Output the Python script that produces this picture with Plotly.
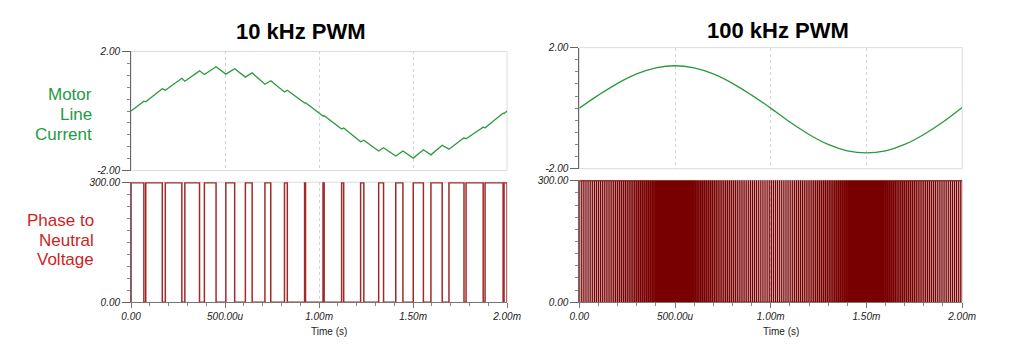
import plotly.graph_objects as go

# ---------------- data (time in microseconds) ----------------
# 10 kHz PWM: high intervals of the phase-to-neutral voltage
pwm10_high_start_us = [0, 78, 182, 286, 390, 504, 608, 712, 816, 923, 1021,
                       1120, 1221, 1317, 1408, 1501, 1595, 1691, 1782, 1883, 1984]
pwm10_high_end_us = [68, 166, 270, 364, 452, 551, 644, 743, 831, 928, 1027,
                     1131, 1238, 1343, 1446, 1555, 1655, 1771, 1873, 1979, 2000]
pwm_high_v = 300
pwm_low_v = 0

# 10 kHz motor line current (ripple vertices)
current10_t_us = [0, 68, 78, 166, 182, 270, 286, 364, 390, 452, 504, 551, 608,
                  644, 712, 743, 816, 831, 923, 928, 1021, 1027, 1120, 1131,
                  1221, 1238, 1317, 1343, 1408, 1446, 1501, 1555, 1595, 1655,
                  1691, 1771, 1782, 1873, 1883, 1979, 1984, 2000]
current10_a = [0.00, 0.33, 0.31, 0.75, 0.70, 1.10, 1.00, 1.35, 1.23, 1.49, 1.24,
               1.42, 1.14, 1.28, 0.90, 1.02, 0.64, 0.70, 0.27, 0.28, -0.17,
               -0.16, -0.60, -0.57, -1.03, -0.98, -1.34, -1.23, -1.51, -1.34,
               -1.58, -1.30, -1.47, -1.15, -1.28, -0.90, -0.93, -0.54, -0.56,
               -0.07, -0.08, 0.00]

# 100 kHz PWM: duty cycle of each 10 us period (estimated)
pwm100_period_us = 10
pwm100_duty = [
    0.96, 0.96, 0.96, 0.96, 0.96, 0.95, 0.95, 0.95, 0.94, 0.94,
    0.94, 0.93, 0.92, 0.92, 0.91, 0.91, 0.90, 0.89, 0.88, 0.88,
    0.87, 0.86, 0.85, 0.84, 0.83, 0.82, 0.81, 0.80, 0.79, 0.78,
    0.76, 0.75, 0.74, 0.73, 0.72, 0.70, 0.69, 0.68, 0.66, 0.65,
    0.64, 0.62, 0.61, 0.59, 0.58, 0.56, 0.55, 0.54, 0.52, 0.51,
    0.49, 0.48, 0.46, 0.45, 0.44, 0.42, 0.41, 0.39, 0.38, 0.36,
    0.35, 0.34, 0.32, 0.31, 0.30, 0.28, 0.27, 0.26, 0.25, 0.24,
    0.22, 0.21, 0.20, 0.19, 0.18, 0.17, 0.16, 0.15, 0.14, 0.13,
    0.12, 0.12, 0.11, 0.10, 0.09, 0.09, 0.08, 0.07, 0.06, 0.06,
    0.06, 0.05, 0.05, 0.05, 0.04, 0.04, 0.04, 0.04, 0.04, 0.04,
    0.04, 0.04, 0.04, 0.04, 0.04, 0.05, 0.05, 0.05, 0.06, 0.06,
    0.06, 0.07, 0.08, 0.08, 0.09, 0.09, 0.10, 0.11, 0.12, 0.12,
    0.13, 0.14, 0.15, 0.16, 0.17, 0.18, 0.19, 0.20, 0.21, 0.22,
    0.24, 0.25, 0.26, 0.27, 0.28, 0.30, 0.31, 0.32, 0.34, 0.35,
    0.36, 0.38, 0.39, 0.41, 0.42, 0.44, 0.45, 0.46, 0.48, 0.49,
    0.51, 0.52, 0.54, 0.55, 0.56, 0.58, 0.59, 0.61, 0.62, 0.64,
    0.65, 0.66, 0.68, 0.69, 0.70, 0.72, 0.73, 0.74, 0.75, 0.76,
    0.78, 0.79, 0.80, 0.81, 0.82, 0.83, 0.84, 0.85, 0.86, 0.87,
    0.88, 0.88, 0.89, 0.90, 0.91, 0.91, 0.92, 0.92, 0.93, 0.94,
    0.94, 0.94, 0.95, 0.95, 0.95, 0.96, 0.96, 0.96, 0.96, 0.96,
]

# 100 kHz motor line current (smooth), sampled every 100 us
current100_t_us = [0, 100, 200, 300, 400, 500, 600, 700, 800, 900, 1000,
                   1100, 1200, 1300, 1400, 1500, 1600, 1700, 1800, 1900, 2000]
current100_a = [0.00, 0.43, 0.82, 1.13, 1.33, 1.40, 1.33, 1.13, 0.82, 0.43, 0.00,
                -0.46, -0.87, -1.20, -1.41, -1.48, -1.41, -1.20, -0.87, -0.46, 0.02]

x_tick_vals = [0, 500, 1000, 1500, 2000]
x_tick_text = ["0.00", "500.00u", "1.00m", "1.50m", "2.00m"]
titles = ["10 kHz PWM", "100 kHz PWM"]
current_label = ["Motor", "Line", "Current"]
voltage_label = ["Phase to", "Neutral", "Voltage"]

# ---------------- build step waveforms ----------------
def step_wave(starts, ends):
    xs, ys = [], []
    for a, b in zip(starts, ends):
        xs += [a, a, b, b]
        ys += [pwm_low_v, pwm_high_v, pwm_high_v, pwm_low_v]
    return xs, ys

v10_x, v10_y = step_wave(pwm10_high_start_us, pwm10_high_end_us)

p100_starts, p100_ends = [], []
for k, d in enumerate(pwm100_duty):
    c = k * pwm100_period_us + pwm100_period_us / 2
    p100_starts.append(c - d * pwm100_period_us / 2)
    p100_ends.append(c + d * pwm100_period_us / 2)
v100_x, v100_y = step_wave(p100_starts, p100_ends)

W, H = 1023, 349
def px(x):
    return x / W
def py(y):
    return 1 - y / H

GREEN = "#2a9a3c"
GREEN_TXT = "#1f9a47"
RED_TXT = "#cc1f24"
FONT = "Liberation Sans, Arial, sans-serif"

fig = go.Figure()
fig.add_trace(go.Scatter(x=current10_t_us, y=current10_a, mode="lines",
                         line=dict(color=GREEN, width=1.3), xaxis="x", yaxis="y"))
fig.add_trace(go.Scatter(x=v10_x, y=v10_y, mode="lines", line=dict(color="#a02a2a", width=1.5, simplify=False),
                         xaxis="x2", yaxis="y2"))
fig.add_trace(go.Scatter(x=current100_t_us, y=current100_a, mode="lines",
                         line=dict(color=GREEN, width=1.3, shape="spline"), xaxis="x3", yaxis="y3"))
fig.add_trace(go.Scatter(x=v100_x, y=v100_y, mode="lines", line=dict(color="#780000", width=1.2, simplify=False),
                         xaxis="x4", yaxis="y4"))

tickfont = dict(family=FONT, size=10, color="#222", style="italic")

def xaxis_cfg(domain, labels, anchor):
    cfg = dict(domain=domain, range=[0, 2000], anchor=anchor, zeroline=False,
               showgrid=True, gridcolor="#d4d4d4", griddash="dot", gridwidth=1,
               tickmode="array", tickvals=x_tick_vals, fixedrange=True)
    if labels:
        cfg.update(ticktext=x_tick_text, ticks="outside", ticklen=5, tickcolor="#777",
                   showline=True, linecolor="#777", linewidth=1, tickfont=tickfont,
                   minor=dict(tickmode="linear", tick0=0, dtick=100, ticks="outside",
                              ticklen=3, tickcolor="#888", showgrid=False))
    else:
        cfg.update(showticklabels=False, ticks="", showline=False)
    return cfg

def yaxis_cfg(domain, rng, vals, texts, dminor, anchor):
    return dict(domain=domain, range=rng, anchor=anchor, zeroline=False, showgrid=False,
                tickmode="array", tickvals=vals, ticktext=texts, ticks="outside", ticklen=8,
                tickcolor="#666", showline=True, linecolor="#666", linewidth=1,
                tickfont=tickfont, fixedrange=True,
                minor=dict(tickmode="linear", tick0=rng[0], dtick=dminor, ticks="outside",
                           ticklen=3, tickcolor="#888", showgrid=False))

L = [px(124), px(509)]
R = [px(583), px(975)]
LT = [py(171), py(48)]
LB = [py(307), py(183)]
RT = [py(169), py(44)]
RB = [py(307), py(181)]

fig.update_layout(
    width=W, height=H, margin=dict(l=0, r=0, t=0, b=0),
    paper_bgcolor="white", plot_bgcolor="white", showlegend=False,
    xaxis=xaxis_cfg(L, False, "y"),
    yaxis=yaxis_cfg(LT, [-2, 2], [-2, 2], ["-2.00", "2.00"], 0.4, "x"),
    xaxis2=xaxis_cfg(L, True, "y2"),
    yaxis2=yaxis_cfg(LB, [0, 301], [0, 300], ["0.00", "300.00"], 30, "x2"),
    xaxis3=xaxis_cfg(R, False, "y3"),
    yaxis3=yaxis_cfg(RT, [-2, 2], [-2, 2], ["-2.00", "2.00"], 0.4, "x3"),
    xaxis4=xaxis_cfg(R, True, "y4"),
    yaxis4=yaxis_cfg(RB, [0, 301], [0, 300], ["0.00", "300.00"], 30, "x4"),
)

# light frames
for xa, ya in [("x", "y"), ("x2", "y2"), ("x3", "y3"), ("x4", "y4")]:
    fig.add_shape(type="rect", xref=f"{xa} domain", yref=f"{ya} domain", x0=0, x1=1, y0=0, y1=1,
                  line=dict(color="#dcdcdc", width=1), layer="below")

ann = []
ann.append(dict(text=titles[0], x=px(298), y=py(27.5)))
ann.append(dict(text=titles[1], x=px(786), y=py(26)))
for a in ann:
    a.update(xref="paper", yref="paper", showarrow=False, xanchor="center", yanchor="middle",
             font=dict(family=FONT, size=22, color="#000", weight="bold"))

for txt, yy in zip(current_label, [92.5, 113, 133.5]):
    ann.append(dict(text=txt, x=px(86), y=py(yy), xref="paper", yref="paper", showarrow=False,
                    xanchor="right", yanchor="middle", font=dict(family=FONT, size=17, color=GREEN_TXT)))
for txt, yy in zip(voltage_label, [223, 243.5, 263]):
    ann.append(dict(text=txt, x=px(88), y=py(yy), xref="paper", yref="paper", showarrow=False,
                    xanchor="right", yanchor="middle", font=dict(family=FONT, size=17, color=RED_TXT)))
for xx in [327, 790]:
    ann.append(dict(text="Time (s)", x=px(xx), y=py(337), xref="paper", yref="paper", showarrow=False,
                    xanchor="center", yanchor="middle", font=dict(family=FONT, size=10, color="#222")))
fig.update_layout(annotations=ann)

fig.write_html("out.html")
